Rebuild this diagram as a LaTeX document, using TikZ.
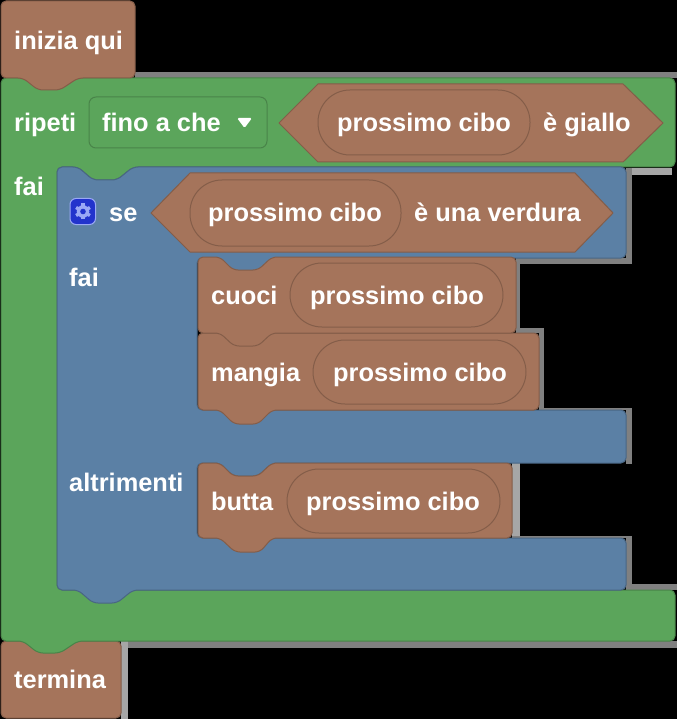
\documentclass[tikz,border=0pt]{standalone}
\usepackage{fontspec}
\setmainfont{Liberation Sans}
\definecolor{brownb}{HTML}{A5745B}
\definecolor{brownd}{HTML}{845D49}
\definecolor{greenb}{HTML}{5BA55B}
\definecolor{greend}{HTML}{498449}
\definecolor{blueb}{HTML}{5B80A5}
\definecolor{blued}{HTML}{496684}
\definecolor{gearbox}{HTML}{2233CC}
\definecolor{gearlight}{HTML}{9AA8F5}
\tikzset{
  x=1pt,y=-1pt,
  brownblock/.style={fill=brownb,draw=brownd,line width=1pt,rounded corners=5pt},
  greenblock/.style={fill=greenb,draw=greend,line width=1pt,rounded corners=5pt},
  blueblock/.style={fill=blueb,draw=blued,line width=1pt,rounded corners=5pt},
  hexa/.style={fill=brownb,draw=brownd,line width=1pt,line join=round},
  pill/.style={fill=brownb,draw=brownd,line width=1pt},
  label/.style={text=white,inner sep=0pt,anchor=base west,font=\bfseries\fontsize{25.4}{25.4}\selectfont},
  bandd/.style={fill=black!50,draw=none},
  bandl/.style={fill=black!35,draw=none},
}
\begin{document}
\begin{tikzpicture}
\useasboundingbox (0,0) rectangle (677,719);
\fill[black] (0,0) rectangle (677,719);
% pale fringe around the blocks
\fill[bandd] (135,72) rectangle (677,78);
\fill[bandl] (626,168) rectangle (672,175);
\fill[bandd] (626,168) rectangle (632,264);
\fill[bandd] (516,258) rectangle (632,264);
\fill[bandd] (516,258) rectangle (520,333);
\fill[bandd] (516,328) rectangle (544,333);
\fill[bandd] (539,328) rectangle (544,410);
\fill[bandd] (539,408) rectangle (632,410);
\fill[bandd] (626,408) rectangle (632,464);
\fill[bandl] (512,463) rectangle (520,538);
\fill[bandd] (512,536) rectangle (632,538);
\fill[bandd] (626,536) rectangle (632,590);
\fill[bandd] (626,584) rectangle (677,590);
\fill[bandd] (121,641) rectangle (677,648);
\fill[bandl] (121,641) rectangle (128,719);
% termina (under the green notch)
\draw[brownblock] (1,641) -- (121,641) -- (121,718) -- (1,718) -- cycle;
% green repeat block
\draw[greenblock] (1,78) -- (675,78) -- (675,167) -- (133,167) -- (117,180) -- (93,180) -- (78,167) -- (57,167)
  -- (57,590) -- (675,590) -- (675,641) -- (78,641) -- (60,653) -- (38,653) -- (23,641) -- (1,641) -- cycle;
% blue if block
\draw[blueblock] (57,167) -- (78,167) -- (93,180) -- (117,180) -- (133,167) -- (626,167) -- (626,258)
  -- (272,258) -- (258,271) -- (233,271) -- (220,258) -- (197,258) -- (197,410) -- (626,410) -- (626,463)
  -- (272,463) -- (258,476) -- (233,476) -- (220,463) -- (197,463) -- (197,538) -- (626,538) -- (626,590)
  -- (133,590) -- (117,603) -- (93,603) -- (78,590) -- (57,590) -- cycle;
% hat
\draw[brownblock] (1,1) -- (135,1) -- (135,78) -- (78,78) -- (60,90) -- (38,90) -- (23,78) -- (1,78) -- cycle;
% statement blocks
\draw[brownblock] (198,333) -- (539,333) -- (539,410) -- (272,410) -- (258,424) -- (234,424) -- (220,410) -- (198,410) -- cycle;
\draw[brownblock] (198,257) -- (220,257) -- (233,270) -- (258,270) -- (272,257) -- (516,257) -- (516,333)
  -- (272,333) -- (258,346) -- (234,346) -- (220,333) -- (198,333) -- cycle;
\draw[brownblock] (198,463) -- (220,463) -- (233,476) -- (258,476) -- (272,463) -- (512,463) -- (512,538)
  -- (272,538) -- (260,552) -- (235,552) -- (220,538) -- (198,538) -- cycle;
% hexagons
\draw[hexa] (279,123) -- (318,84) -- (623,84) -- (663,123) -- (623,162) -- (318,162) -- cycle;
\draw[hexa] (151,213) -- (190,173) -- (575,173) -- (613,213) -- (575,252) -- (190,252) -- cycle;
% pills
\draw[pill,rounded corners=32pt] (318,90) rectangle (530,155);
\draw[pill,rounded corners=32pt] (190,180) rectangle (401,246);
\draw[pill,rounded corners=32pt] (290,263) rectangle (503,327);
\draw[pill,rounded corners=32pt] (313,340) rectangle (526,404);
\draw[pill,rounded corners=32pt] (287,469) rectangle (500,533);
% dropdown
\draw[fill=greenb,draw=greend,line width=1pt,rounded corners=7pt] (89,97) rectangle (267,148);
\fill[white,rounded corners=1.5pt] (237,118) -- (252,118) -- (244.5,128) -- cycle;
% gear icon
\draw[fill=gearbox,draw=gearlight,line width=1pt,rounded corners=6pt] (70,198.5) rectangle (95.5,224.5);
\foreach \a in {30,90,150} {
  \draw[gearlight,line width=3.4pt] ({83+8*cos(\a)},{211.5+8*sin(\a)}) -- ({83-8*cos(\a)},{211.5-8*sin(\a)});
}
\fill[gearlight] (83,211.5) circle[radius=6.3];
\fill[gearbox] (83,211.5) circle[radius=2.8];
% labels
\node[label] (t1) at (14,50) {inizia qui};
\node[label] (t2) at (14,132) {ripeti};
\node[label] (t3) at (102,132) {fino a che};
\node[label] (t4) at (337,132) {prossimo cibo};
\node[label] (t5) at (543,132) {è giallo};
\node[label] (t6) at (14,195.5) {fai};
\node[label] (t7) at (109,222) {se};
\node[label] (t8) at (208,222) {prossimo cibo};
\node[label] (t9) at (414,222) {è una verdura};
\node[label] (t10) at (69,286) {fai};
\node[label] (t11) at (211,304) {cuoci};
\node[label] (t12) at (310,304) {prossimo cibo};
\node[label] (t13) at (211,381) {mangia};
\node[label] (t14) at (333,381) {prossimo cibo};
\node[label] (t15) at (69,491) {altrimenti};
\node[label] (t16) at (211,510) {butta};
\node[label] (t17) at (306,510) {prossimo cibo};
\node[label] (t18) at (14,688.5) {termina};
\end{tikzpicture}
\end{document}
